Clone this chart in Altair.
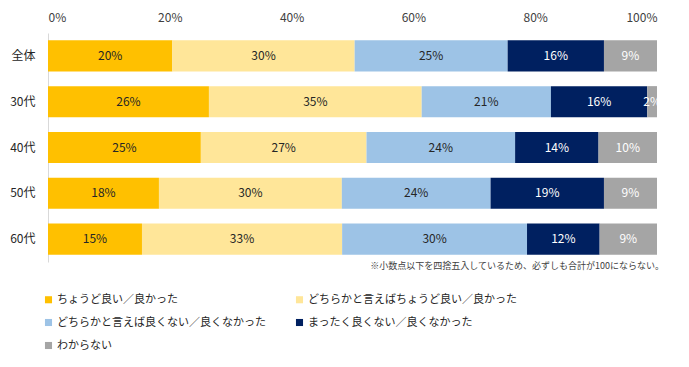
import altair as alt
import pandas as pd

groups = ["全体", "30代", "40代", "50代", "60代"]
categories = [
    "ちょうど良い／良かった",
    "どちらかと言えばちょうど良い／良かった",
    "どちらかと言えば良くない／良くなかった",
    "まったく良くない／良くなかった",
    "わからない",
]
colors = ["#FFC000", "#FFE699", "#9DC3E6", "#002060", "#A5A5A5"]
text_colors = ["#262626", "#262626", "#262626", "#FFFFFF", "#FFFFFF"]

v_good = [20.4, 26.4, 25.1, 18.2, 15.4]
v_rather_good = [29.9, 34.9, 27.2, 30.0, 32.8]
v_rather_bad = [25.1, 21.2, 24.4, 24.4, 30.3]
v_bad = [15.8, 15.8, 13.7, 18.6, 11.9]
v_unknown = [8.7, 1.6, 9.6, 8.7, 9.4]
x_ticks = [0, 0.2, 0.4, 0.6, 0.8, 1.0]
note = "※小数点以下を四捨五入しているため、必ずしも合計が100にならない。"

# legend is filled column by column; order so it reads row by row like the original
legend_order = [0, 2, 4, 1, 3]
legend_domain = [categories[i] for i in legend_order]
legend_range = [colors[i] for i in legend_order]

series = [v_good, v_rather_good, v_rather_bad, v_bad, v_unknown]
rows = []
for ci, (cat, vals) in enumerate(zip(categories, series)):
    for g, v in zip(groups, vals):
        rows.append({"group": g, "cat": cat, "order": ci, "value": v, "tc": text_colors[ci]})
df = pd.DataFrame(rows)

FONT = "Noto Sans CJK JP"

base = alt.Chart(df).transform_stack(
    stack="value",
    groupby=["group"],
    as_=["x0", "x1"],
    offset="normalize",
    sort=[alt.SortField("order", order="ascending")],
).transform_calculate(
    mid="(datum.x0 + datum.x1) / 2",
    label="format(datum.value, '.0f') + '%'",
)

yenc = alt.Y(
    "group:N",
    sort=groups,
    scale=alt.Scale(paddingInner=0.32, paddingOuter=0.16),
    axis=alt.Axis(
        title=None, ticks=False, domainColor="#D9D9D9", domainWidth=1,
        labelPadding=13, labelFontSize=12, labelFont=FONT, labelColor="#262626",
    ),
)

bars = base.mark_bar().encode(
    y=yenc,
    x=alt.X(
        "x0:Q",
        scale=alt.Scale(domain=[0, 1], nice=False),
        axis=alt.Axis(
            orient="top", title=None, grid=False, ticks=False, domain=False,
            values=x_ticks, format=".0%", labelPadding=9, labelFontSize=12,
            labelFont=FONT, labelColor="#404040",
        ),
    ),
    x2="x1:Q",
    color=alt.Color(
        "cat:N",
        scale=alt.Scale(domain=legend_domain, range=legend_range),
        legend=alt.Legend(
            title=None, orient="none", legendX=-5, legendY=261, columns=2,
            columnPadding=28, rowPadding=11, symbolType="square", symbolSize=50,
            symbolStrokeWidth=0, labelFontSize=11, labelFont=FONT,
            labelColor="#262626", labelOffset=3, labelLimit=400,
        ),
    ),
)

texts = base.mark_text(fontSize=12, font=FONT, baseline="middle", align="center").encode(
    y=alt.Y("group:N", sort=groups),
    x=alt.X("mid:Q"),
    text="label:N",
    color=alt.Color("tc:N", scale=None, legend=None),
)

note_layer = alt.Chart(pd.DataFrame({"t": [note]})).mark_text(
    align="right", baseline="middle", fontSize=9, font=FONT, color="#404040"
).encode(text="t:N", x=alt.value(616), y=alt.value(233))

chart = alt.layer(bars, texts, note_layer).resolve_scale(color="independent").properties(
    width=609,
    height=229,
    autosize=alt.AutoSizeParams(type="none"),
    padding={"left": 40, "top": 25, "right": 24, "bottom": 90},
).configure_view(stroke=None)

chart.save("out.html", embed_options={"renderer": "svg", "actions": False})
